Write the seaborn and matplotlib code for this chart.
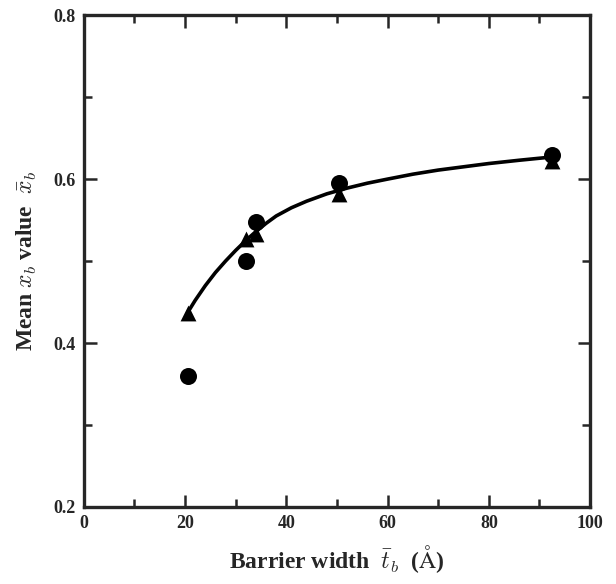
import numpy as np
import pandas as pd
import seaborn as sns
from matplotlib import pyplot as plt
from matplotlib.ticker import MultipleLocator

# data
width_pts = [20.5, 32.0, 34.0, 50.5, 92.5]
xb_circle = [0.360, 0.500, 0.548, 0.595, 0.630]
xb_triangle = [0.437, 0.527, 0.533, 0.582, 0.622]

# hand-drawn guide curve
curve_x = [20.5, 22, 24, 26, 28, 30, 32, 34, 36, 38, 41, 44, 48, 52, 56, 60, 65, 70, 75, 80, 86, 92.5]
curve_y = [0.437, 0.452, 0.470, 0.486, 0.500, 0.513, 0.525, 0.536, 0.546, 0.555, 0.565,
           0.573, 0.582, 0.589, 0.595, 0.600, 0.606, 0.611, 0.615, 0.619, 0.623, 0.627]

x_ticks = [0, 20, 40, 60, 80, 100]
y_ticks = [0.2, 0.4, 0.6, 0.8]

sns.set_style("ticks")
plt.rcParams["font.family"] = ["Liberation Serif", "DejaVu Serif"]
plt.rcParams["mathtext.fontset"] = "cm"

df_c = pd.DataFrame({"w": width_pts, "xb": xb_circle})
df_t = pd.DataFrame({"w": width_pts, "xb": xb_triangle})
df_fit = pd.DataFrame({"w": curve_x, "xb": curve_y})

fig = plt.figure(figsize=(6.16, 5.84), dpi=100)
ax = fig.add_axes([0.136, 0.132, 0.822, 0.842])

sns.lineplot(data=df_fit, x="w", y="xb", ax=ax, color="black", lw=2.6,
             estimator=None, sort=False)
sns.scatterplot(data=df_t, x="w", y="xb", ax=ax, marker="^", color="black",
                s=130, edgecolor="black", linewidth=0, zorder=3)
sns.scatterplot(data=df_c, x="w", y="xb", ax=ax, marker="o", color="black",
                s=150, edgecolor="black", linewidth=0, zorder=4)

ax.set_xlim(0, 100)
ax.set_ylim(0.2, 0.8)
ax.set_xticks(x_ticks)
ax.set_yticks(y_ticks)
ax.set_xticklabels([str(t) for t in x_ticks])
ax.set_yticklabels([f"{t:.1f}" for t in y_ticks])
ax.xaxis.set_minor_locator(MultipleLocator(10))
ax.yaxis.set_minor_locator(MultipleLocator(0.1))
ax.tick_params(which="both", direction="in", top=True, right=True, width=1.8,
               labelsize=13, pad=6)
ax.tick_params(which="major", length=9)
ax.tick_params(which="minor", length=6)
for lab in ax.get_xticklabels() + ax.get_yticklabels():
    lab.set_fontweight("bold")
for sp in ax.spines.values():
    sp.set_linewidth(2.4)

ax.set_xlabel(r"Barrier width  $\bar{t}_b$  ($\mathrm{\AA}$)", fontsize=17,
              fontweight="bold", labelpad=8)
ax.set_ylabel(r"Mean $x_b$ value  $\bar{x}_b$", fontsize=17,
              fontweight="bold", labelpad=10)

fig.savefig("out.png", dpi=100)
